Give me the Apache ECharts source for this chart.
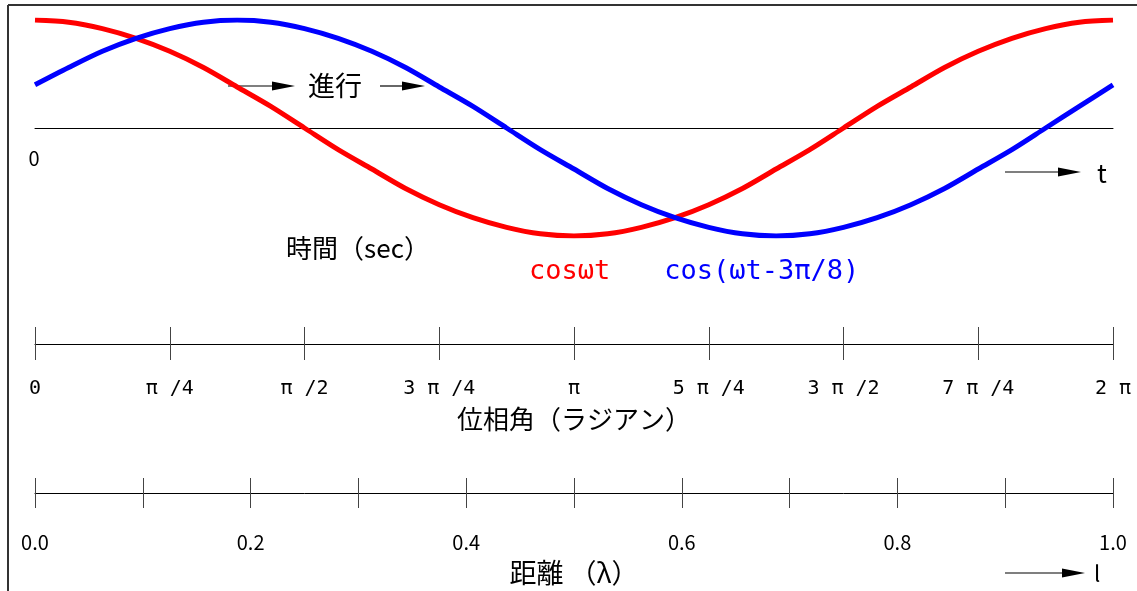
<!DOCTYPE html>
<html><head><meta charset="utf-8">
<script src="https://cdn.jsdelivr.net/npm/echarts@6/dist/echarts.min.js"></script>
<style>html,body{margin:0;padding:0;background:#fff}#c{width:1137px;height:591px}</style>
</head><body><div id="c"></div>
<script>
// phase positions in units of π
const phase = [0,0.0625,0.125,0.1875,0.25,0.3125,0.375,0.4375,0.5,0.5625,0.625,0.6875,0.75,0.8125,0.875,0.9375,1,
  1.0625,1.125,1.1875,1.25,1.3125,1.375,1.4375,1.5,1.5625,1.625,1.6875,1.75,1.8125,1.875,1.9375,2];
const redValues = [1.00,0.98,0.92,0.83,0.71,0.56,0.38,0.20,0.00,-0.20,-0.38,-0.56,-0.71,-0.83,-0.92,-0.98,-1.00,
  -0.98,-0.92,-0.83,-0.71,-0.56,-0.38,-0.20,0.00,0.20,0.38,0.56,0.71,0.83,0.92,0.98,1.00];
const blueValues = [0.40,0.56,0.71,0.83,0.92,0.98,1.00,0.98,0.92,0.83,0.71,0.56,0.38,0.20,0.00,-0.20,-0.38,
  -0.56,-0.71,-0.83,-0.92,-0.98,-1.00,-0.98,-0.92,-0.83,-0.71,-0.56,-0.38,-0.20,0.00,0.20,0.40];
const seriesNames = ['cosωt', 'cos(ωt-3π/8)'];
const phaseTickLabels = ['0','π /4','π /2','3 π /4','π','5 π /4','3 π /2','7 π /4','2 π'];
const distanceTickLabels = ['0.0','','0.2','','0.4','','0.6','','0.8','','1.0'];
const phaseAxisName = '位相角（ラジアン）';
const distanceAxisName = '距離 （λ）';

const FONT = "'Noto Sans CJK JP', 'Noto Sans', sans-serif";
const MONO = "'DejaVu Sans Mono', 'Liberation Mono', monospace";
const chart = echarts.init(document.getElementById('c'), null, {renderer: 'canvas'});

function arrow(x1, x2, y) {
  return {
    type: 'group', children: [
      {type: 'line', shape: {x1: x1, y1: y, x2: x2 - 18, y2: y}, style: {stroke: '#000', lineWidth: 1.2}},
      {type: 'polygon', shape: {points: [[x2, y], [x2 - 23, y - 4.5], [x2 - 23, y + 4.5]]}, style: {fill: '#000'}}
    ]
  };
}
function label(text, x, y, size, family) {
  return {type: 'text', x: x, y: y, style: {text: text, fill: '#000', font: size + 'px ' + (family || FONT), align: 'center', verticalAlign: 'middle'}};
}

const option = {
  backgroundColor: '#fff',
  animation: false,
  textStyle: {fontFamily: FONT},
  legend: {
    left: 524, top: 258, padding: 0, icon: 'none', itemWidth: 0, itemGap: 49, selectedMode: false,
    textStyle: {fontSize: 27, fontFamily: MONO},
    data: [
      {name: seriesNames[0], textStyle: {color: '#ff0000'}},
      {name: seriesNames[1], textStyle: {color: '#0000ff'}}
    ]
  },
  grid: [
    {left: 35, width: 1078, top: 20, height: 216},
    {left: 35, width: 1078, top: 327, height: 17},
    {left: 35, width: 1078, top: 478, height: 15}
  ],
  xAxis: [
    {gridIndex: 0, type: 'value', min: 0, max: 2,
      axisLine: {show: true, onZero: true, lineStyle: {color: '#000', width: 1}},
      axisTick: {show: false}, axisLabel: {show: false}, splitLine: {show: false}},
    {gridIndex: 1, type: 'value', min: 0, max: 2, interval: 0.25, position: 'bottom',
      axisLine: {show: true, lineStyle: {color: '#000', width: 1}},
      axisTick: {show: true, length: 16, lineStyle: {color: '#444', width: 1}},
      splitLine: {show: true, lineStyle: {color: '#444', width: 1}},
      axisLabel: {margin: 35, fontSize: 20, color: '#000', fontFamily: MONO,
        formatter: v => phaseTickLabels[Math.round(v * 4)] || ''},
      name: phaseAxisName, nameLocation: 'middle', nameGap: 62,
      nameTextStyle: {fontSize: 26, color: '#000', fontFamily: FONT}},
    {gridIndex: 2, type: 'value', min: 0, max: 1, interval: 0.1, position: 'bottom',
      axisLine: {show: true, lineStyle: {color: '#000', width: 1}},
      axisTick: {show: true, length: 15, lineStyle: {color: '#444', width: 1}},
      splitLine: {show: true, lineStyle: {color: '#444', width: 1}},
      axisLabel: {margin: 39, fontSize: 20, color: '#000', fontFamily: FONT,
        formatter: v => distanceTickLabels[Math.round(v * 10)] || ''},
      name: distanceAxisName, nameLocation: 'middle', nameGap: 66,
      nameTextStyle: {fontSize: 27, color: '#000', fontFamily: FONT}}
  ],
  yAxis: [
    {gridIndex: 0, type: 'value', min: -1, max: 1, show: false},
    {gridIndex: 1, type: 'value', min: 0, max: 1, show: false},
    {gridIndex: 2, type: 'value', min: 0, max: 1, show: false}
  ],
  series: [
    {name: seriesNames[0], type: 'line', xAxisIndex: 0, yAxisIndex: 0, smooth: 0.3, showSymbol: false,
      data: phase.map((x, i) => [x, redValues[i]]),
      lineStyle: {color: '#ff0000', width: 5}, itemStyle: {color: '#ff0000'}},
    {name: seriesNames[1], type: 'line', xAxisIndex: 0, yAxisIndex: 0, smooth: 0.3, showSymbol: false,
      data: phase.map((x, i) => [x, blueValues[i]]),
      lineStyle: {color: '#0000ff', width: 5}, itemStyle: {color: '#0000ff'}}
  ],
  graphic: [
    {type: 'line', shape: {x1: 8, y1: 5, x2: 1137, y2: 5}, style: {stroke: '#333', lineWidth: 2}},
    {type: 'line', shape: {x1: 8, y1: 5, x2: 8, y2: 591}, style: {stroke: '#333', lineWidth: 2}},
    arrow(228, 295, 86),
    label('進行', 335, 86, 27),
    arrow(380, 425, 86),
    label('0', 34, 158, 20),
    arrow(1005, 1081, 172),
    label('t', 1102, 173, 26),
    label('時間（sec）', 358, 248, 26),
    arrow(1005, 1085, 573),
    label('l', 1097, 574, 22)
  ]
};
chart.setOption(option);
</script>
</body></html>
